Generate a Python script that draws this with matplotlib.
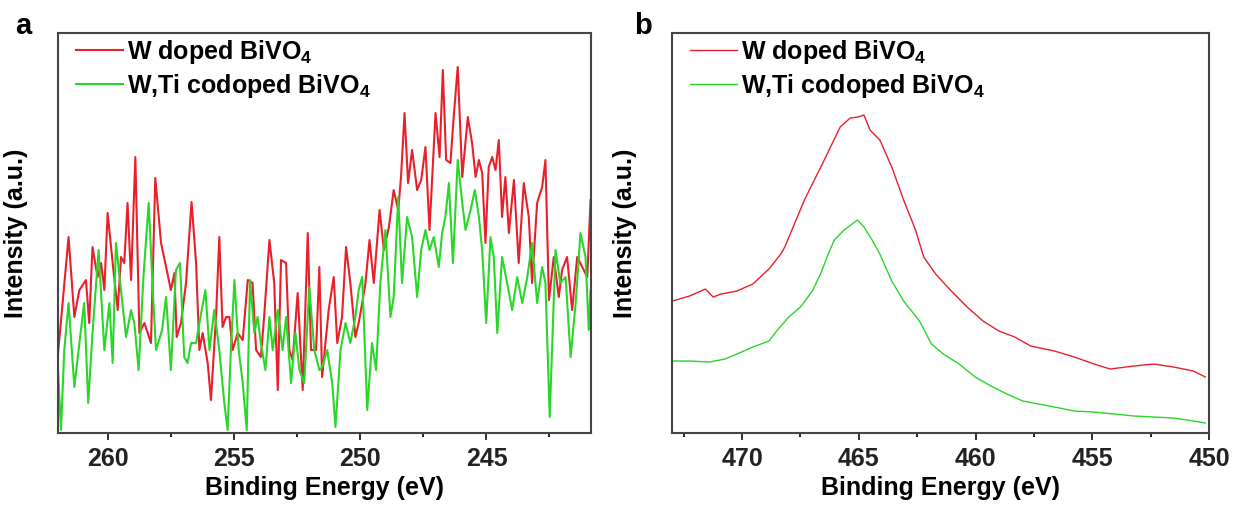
"""
XPS spectra: W doped vs W,Ti codoped BiVO4
a: Ti 2p window (noisy), b: the neighbouring 450-473 eV window.
"""
import matplotlib
matplotlib.use("Agg")
import matplotlib.pyplot as plt
from matplotlib.ticker import MultipleLocator

plt.rcParams["font.family"] = ["Liberation Sans", "DejaVu Sans"]
plt.rcParams["font.weight"] = "bold"
plt.rcParams["mathtext.fontset"] = "custom"
plt.rcParams["mathtext.bf"] = "Liberation Sans:bold"
plt.rcParams["mathtext.rm"] = "Liberation Sans:bold"

RED = "#e8202c"
GREEN = "#2ad62a"

# ---------------------------------------------------------------------------
# panel a: values (arbitrary intensity units)
# ---------------------------------------------------------------------------
a_red_e = [262.01, 261.58, 261.35, 261.15, 260.89, 260.76, 260.63, 260.43, 260.29, 260.16,
           260.03, 259.83, 259.63, 259.50, 259.37, 259.24, 259.10, 258.93, 258.77, 258.57,
           258.31, 258.14, 257.91, 257.71, 257.52, 257.38, 257.29, 257.12, 256.92, 256.70,
           256.52, 256.39, 256.26, 256.06, 255.93, 255.73, 255.60, 255.47, 255.33, 255.20,
           255.07, 254.87, 254.67, 254.47, 254.28, 254.14, 253.95, 253.81, 253.61, 253.42,
           253.28, 253.15, 252.95, 252.82, 252.69, 252.49, 252.29, 252.09, 251.96, 251.76,
           251.63, 251.52, 251.26, 251.06, 250.92, 250.73, 250.57, 250.40, 250.20, 250.07,
           249.93, 249.80, 249.64, 249.47, 249.24, 249.07, 248.87, 248.68, 248.50, 248.39,
           248.25, 248.11, 247.95, 247.75, 247.59, 247.42, 247.26, 247.02, 246.86, 246.73,
           246.60, 246.43, 246.30, 246.14, 245.96, 245.74, 245.57, 245.43, 245.30, 245.17,
           245.04, 244.91, 244.77, 244.64, 244.51, 244.38, 244.25, 244.11, 243.91, 243.72,
           243.52, 243.32, 243.19, 242.99, 242.79, 242.66, 242.52, 242.33, 242.13, 242.00,
           241.80, 241.60, 241.40, 241.20, 241.00, 240.87]
a_red_i = [76, 196, 116, 143, 153, 110, 186, 156, 170, 143,
           220, 170, 123, 176, 170, 230, 153, 276, 100, 110,
           90, 255, 190, 166, 143, 160, 96, 110, 150, 231,
           170, 83, 100, 70, 33, 116, 196, 106, 116, 116,
           83, 100, 93, 153, 150, 83, 76, 120, 193, 150,
           43, 173, 170, 83, 73, 140, 43, 200, 83, 83,
           166, 56, 123, 156, 90, 116, 186, 150, 96, 110,
           130, 150, 193, 150, 223, 183, 206, 243, 223, 256,
           320, 250, 283, 243, 253, 286, 203, 320, 276, 363,
           273, 270, 316, 366, 256, 316, 290, 256, 273, 260,
           190, 266, 276, 263, 293, 216, 256, 200, 253, 170,
           250, 216, 150, 230, 246, 273, 133, 176, 136, 163,
           176, 123, 176, 166, 156, 233]

a_green_e = [262.08, 261.88, 261.75, 261.58, 261.35, 261.15, 260.96, 260.80, 260.63, 260.39,
             260.16, 259.96, 259.83, 259.70, 259.50, 259.30, 259.10, 258.97, 258.80, 258.61,
             258.40, 258.24, 258.11, 257.87, 257.71, 257.52, 257.32, 257.16, 256.99, 256.86,
             256.72, 256.52, 256.39, 256.15, 255.99, 255.80, 255.60, 255.40, 255.27, 255.14,
             255.00, 254.83, 254.67, 254.51, 254.38, 254.21, 254.08, 253.95, 253.77, 253.61,
             253.48, 253.28, 253.09, 252.95, 252.75, 252.58, 252.42, 252.23, 252.03, 251.83,
             251.63, 251.52, 251.32, 251.12, 250.99, 250.79, 250.59, 250.40, 250.20, 250.07,
             249.93, 249.73, 249.54, 249.38, 249.21, 249.01, 248.81, 248.68, 248.50, 248.35,
             248.15, 247.95, 247.75, 247.59, 247.42, 247.26, 247.09, 246.89, 246.76, 246.63,
             246.49, 246.33, 246.14, 245.96, 245.83, 245.63, 245.46, 245.30, 245.17, 245.01,
             244.84, 244.71, 244.57, 244.38, 244.18, 243.98, 243.78, 243.58, 243.38, 243.19,
             242.99, 242.79, 242.66, 242.49, 242.26, 242.07, 241.86, 241.66, 241.46, 241.27,
             241.07, 240.94, 240.87]
a_green_i = [106, 3, 83, 130, 46, 90, 130, 30, 100, 183,
             83, 130, 70, 190, 143, 96, 123, 110, 63, 156,
             230, 143, 83, 103, 136, 63, 163, 170, 76, 70,
             90, 90, 110, 143, 83, 123, 83, 30, 3, 83,
             153, 83, 50, 3, 153, 100, 116, 90, 63, 116,
             83, 123, 83, 116, 50, 100, 63, 50, 146, 83,
             63, 66, 83, 50, 6, 83, 110, 90, 116, 143,
             156, 23, 90, 63, 150, 203, 116, 136, 236, 150,
             216, 196, 136, 183, 203, 183, 196, 166, 200, 216,
             250, 170, 273, 230, 203, 223, 243, 216, 183, 110,
             196, 176, 100, 176, 150, 123, 156, 130, 156, 190,
             130, 166, 150, 16, 183, 150, 156, 76, 130, 200,
             176, 103, 143]

# ---------------------------------------------------------------------------
# panel b
# ---------------------------------------------------------------------------
b_red_e = [472.98, 472.25, 471.57, 471.24, 470.90, 470.22, 469.54, 468.85, 468.34, 468.17,
           467.33, 466.48, 465.80, 465.37, 465.03, 464.78, 464.52, 464.10, 463.59, 463.08,
           462.57, 462.22, 461.71, 461.04, 460.36, 459.68, 459.00, 458.32, 457.64, 456.62,
           455.77, 454.92, 454.24, 453.22, 452.37, 451.52, 450.67, 450.16]
b_red_i = [132, 137, 144, 136, 139, 142, 149, 164, 179, 186,
           233, 273, 306, 315, 316, 318, 303, 293, 266, 233,
           203, 176, 159, 142, 126, 112, 102, 96, 87, 82,
           76, 69, 64, 67, 69, 66, 62, 56]

b_green_e = [472.98, 472.25, 471.40, 470.73, 470.22, 469.54, 468.85, 468.52, 468.00, 467.50,
             466.99, 466.64, 466.31, 466.05, 465.63, 465.29, 465.06, 464.78, 464.43, 464.10,
             463.59, 463.08, 462.40, 461.89, 461.38, 460.70, 460.02, 459.34, 458.66, 457.98,
             457.30, 456.62, 455.77, 454.92, 454.07, 453.22, 452.37, 451.52, 450.67, 450.16]
b_green_i = [72, 72, 71, 74, 79, 86, 92, 102, 116, 126,
             142, 159, 179, 193, 203, 209, 213, 206, 193, 179,
             152, 132, 112, 89, 79, 69, 56, 47, 39, 32,
             29, 26, 22, 21, 19, 17, 16, 15, 12, 10]

labels = [r"W doped BiVO$_\mathbf{4}$", r"W,Ti codoped BiVO$_\mathbf{4}$"]

fig = plt.figure(figsize=(12.36, 5.08), dpi=100)
ax_a = fig.add_axes([0.0469, 0.1476, 0.4313, 0.7874])
ax_b = fig.add_axes([0.5437, 0.1476, 0.4345, 0.7874])

ax_a.plot(a_red_e, a_red_i, color=RED, lw=1.5, label=labels[0])
ax_a.plot(a_green_e, a_green_i, color=GREEN, lw=1.5, label=labels[1])
ax_a.set_xlim(262, 240.85)
ax_a.xaxis.set_major_locator(MultipleLocator(5))
ax_a.xaxis.set_minor_locator(MultipleLocator(2.5))

ax_b.plot(b_red_e, b_red_i, color=RED, lw=1.0, label=labels[0])
ax_b.plot(b_green_e, b_green_i, color=GREEN, lw=1.0, label=labels[1])
ax_b.set_xlim(473, 450)
ax_b.xaxis.set_major_locator(MultipleLocator(5))
ax_b.xaxis.set_minor_locator(MultipleLocator(2.5))

for ax, ylab_x in [(ax_a, -0.056), (ax_b, -0.066)]:
    ax.set_ylim(0, 400)
    ax.set_yticks([])
    for sp in ax.spines.values():
        sp.set_color("#444444")
        sp.set_linewidth(1.5)
    ax.tick_params(axis="x", which="major", direction="out", length=5, width=1.3,
                   labelsize=18, pad=5, colors="#222222")
    ax.tick_params(axis="x", which="minor", direction="out", length=3, width=1.2)
    for t in ax.get_xticklabels():
        t.set_fontweight("bold")
    ax.set_xlabel("Binding Energy (eV)", fontsize=18, fontweight="bold", labelpad=4)
    ax.set_ylabel("Intensity (a.u.)", fontsize=18, fontweight="bold")
    ax.yaxis.set_label_coords(ylab_x, 0.5)
    leg = ax.legend(loc="upper left", frameon=False, fontsize=18, handlelength=1.9,
                    handletextpad=0.15, labelspacing=0.25, borderaxespad=0.1,
                    bbox_to_anchor=(0.01, 1.02))
    for t in leg.get_texts():
        t.set_fontweight("bold")

# panel letters
fig.text(23 / 1236, 1 - 12 / 508, "a", fontsize=21, fontweight="bold", ha="center", va="top")
fig.text(643 / 1236, 1 - 12 / 508, "b", fontsize=21, fontweight="bold", ha="center", va="top")

fig.savefig("out.png", dpi=100)
